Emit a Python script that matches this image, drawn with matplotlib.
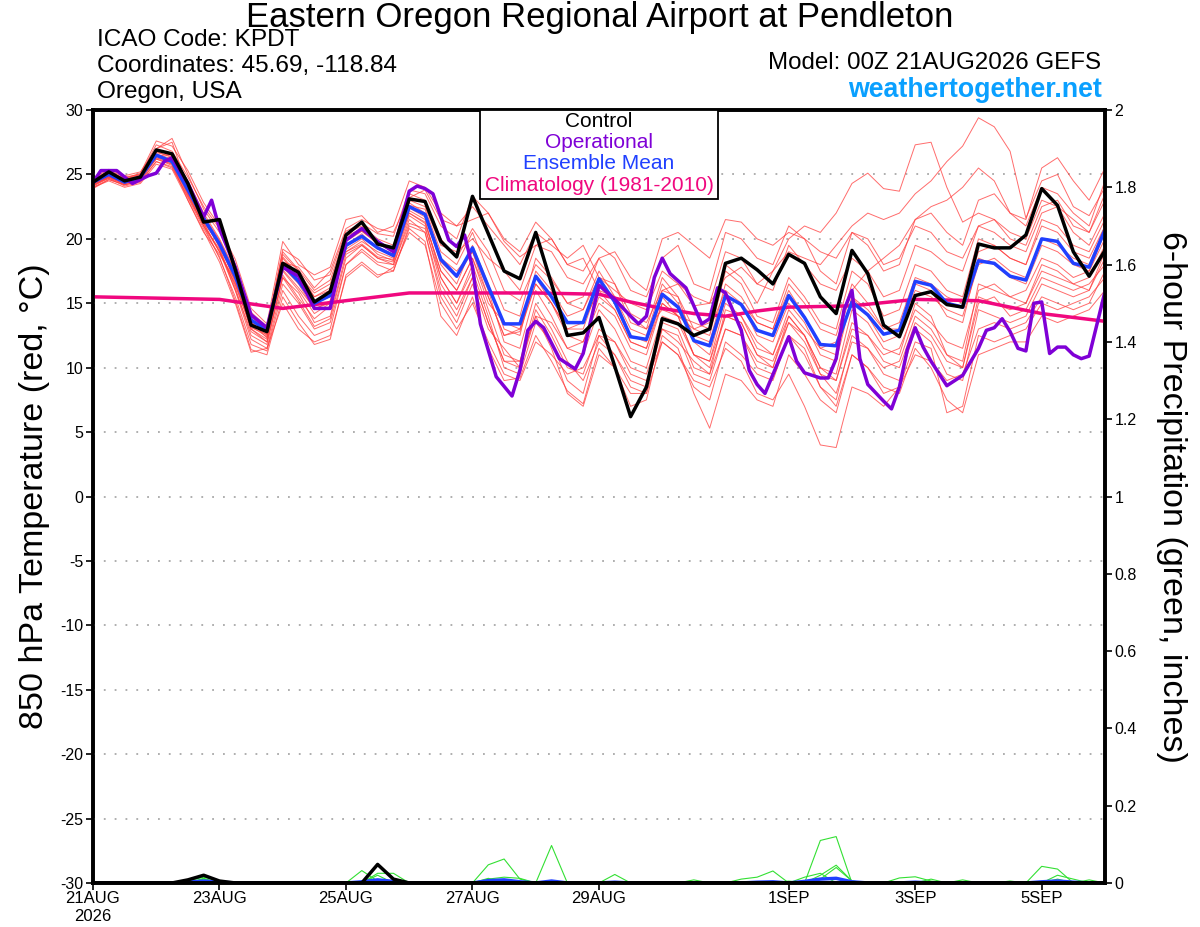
import matplotlib
matplotlib.use("Agg")
import matplotlib.pyplot as plt

plt.rcParams['font.family'] = ['Liberation Sans', 'DejaVu Sans']
plt.rcParams['axes.unicode_minus'] = False

# ------------------------------------------------------------------ dados
# horas de previsão (6-horário), 00Z 21AUG2026 -> 00Z 06SEP2026
hours = list(range(0, 385, 6))

control = [24.4, 25.2, 24.5, 24.8, 26.9, 26.6, 24.3, 21.3, 21.5, 17.6,
           13.3, 12.8, 18.1, 17.4, 15.1, 15.9, 20.3, 21.3, 19.6, 19.3,
           23.1, 22.9, 19.8, 18.6, 23.3, 20.4, 17.5, 16.9, 20.5, 16.5,
           12.5, 12.7, 13.9, 10.1, 6.2, 8.5, 13.8, 13.4, 12.5, 13.0,
           18.1, 18.5, 17.6, 16.5, 18.8, 18.1, 15.5, 14.2, 19.1, 17.3,
           13.3, 12.4, 15.6, 15.9, 14.9, 14.7, 19.6, 19.3, 19.3, 20.3,
           23.9, 22.6, 19.0, 17.1, 19.1]

ens_mean = [24.4, 25.0, 24.4, 24.8, 26.5, 26.0, 23.8, 21.6, 19.6, 17.1,
            13.7, 12.9, 18.0, 16.7, 15.0, 15.6, 19.5, 20.2, 19.3, 18.7,
            22.5, 21.9, 18.4, 17.1, 19.3, 16.3, 13.4, 13.4, 17.1, 15.5,
            13.5, 13.5, 16.9, 15.1, 12.4, 12.2, 15.7, 14.7, 12.1, 11.7,
            15.6, 14.9, 12.9, 12.5, 15.6, 13.9, 11.8, 11.7, 15.1, 14.1,
            12.6, 12.9, 16.7, 16.4, 15.0, 14.7, 18.3, 18.1, 17.1, 16.8,
            20.0, 19.8, 18.1, 17.8, 20.7]

# operacional (GFS) em passos de 3 h onde se vêem os vértices
oper_hours = [0, 3, 9, 15, 21, 24, 27, 30, 36, 42, 45, 48, 54, 60, 66, 72, 78,
              84, 90, 96, 102, 108, 114, 120, 123, 126, 129, 135, 138, 141,
              144, 147, 153, 159, 162, 165, 168, 171, 177, 183, 186, 192, 198,
              204, 207, 210, 213, 216, 219, 225, 231, 234, 237, 240, 246, 249,
              252, 255, 264, 267, 270, 276, 279, 282, 285, 288, 291, 294, 300,
              303, 306, 309, 312, 315, 318, 324, 330, 336, 339, 342, 345, 348,
              351, 354, 357, 360, 363, 366, 369, 372, 375, 378, 384]
operational = [24.4, 25.3, 25.3, 24.3, 24.9, 25.1, 26.0, 26.3, 24.3, 21.7,
               23.0, 20.8, 17.8, 14.1, 13.1, 17.8, 17.1, 14.6, 14.6, 19.9,
               20.8, 19.8, 19.0, 23.7, 24.1, 23.9, 23.5, 19.9, 19.4, 20.3,
               17.8, 13.4, 9.3, 7.8, 9.8, 12.9, 13.6, 13.1, 10.7, 9.9,
               11.1, 16.4, 15.3, 14.0, 13.4, 14.0, 17.0, 18.5, 17.3, 16.2,
               13.4, 13.8, 16.2, 15.8, 12.9, 9.8, 8.7, 8.0, 12.4, 10.5,
               9.6, 9.2, 9.2, 10.7, 14.5, 16.0, 10.7, 8.7, 7.4, 6.8,
               8.5, 11.4, 13.1, 11.6, 10.5, 8.6, 9.4, 11.5, 12.9, 13.1,
               13.8, 12.8, 11.5, 11.3, 15.0, 15.1, 11.1, 11.6, 11.6, 11.0,
               10.7, 10.9, 15.9]

clim_hours = [0, 48, 72, 96, 120, 144, 168, 192, 204, 216, 228, 240, 252,
              264, 288, 312, 336, 360, 384]
climatology = [15.5, 15.3, 14.6, 15.2, 15.8, 15.8, 15.8, 15.7, 15.1, 14.6,
               14.2, 14.0, 14.4, 14.7, 14.8, 15.3, 15.2, 14.2, 13.6]

# membros do ensemble (temperatura 850 hPa), lidos a olho
mem_a = [24.2, 24.8, 24.3, 24.6, 27.0, 27.8, 25.0, 22.3, 20.5, 17.8, 14.3, 13.2, 19.0, 17.6, 16.0, 16.8,
         20.4, 21.0, 20.0, 19.5, 23.5, 23.0, 20.0, 18.5, 20.8, 19.0, 16.0, 15.2, 18.0, 16.8, 15.0, 14.5,
         17.0, 16.5, 14.2, 13.5, 16.0, 16.5, 14.8, 15.0, 17.0, 17.8, 16.5, 17.5, 19.0, 18.5, 18.0, 19.5,
         21.0, 22.0, 21.5, 22.0, 23.5, 24.5, 26.0, 27.2, 29.4, 28.7, 26.8, 21.6, 24.5, 25.0, 22.5, 21.8, 24.0]
mem_b = [24.5, 25.1, 24.6, 24.9, 26.3, 26.0, 23.5, 21.0, 19.0, 16.5, 13.0, 12.2, 17.5, 16.0, 14.2, 15.0,
         19.8, 20.6, 19.7, 19.0, 22.0, 21.3, 17.5, 16.0, 18.5, 15.5, 12.5, 12.8, 16.5, 15.0, 13.0, 13.5,
         16.0, 14.5, 12.0, 11.5, 15.0, 14.0, 13.0, 13.5, 18.0, 17.0, 15.0, 17.5, 20.0, 21.0, 20.5, 22.0,
         24.3, 25.1, 23.9, 23.7, 27.3, 27.5, 24.0, 21.3, 22.0, 21.5, 20.0, 19.5, 22.5, 23.0, 21.0, 20.5, 23.5]
mem_c = [24.0, 24.6, 24.2, 24.5, 26.8, 26.3, 24.3, 21.8, 19.3, 16.2, 12.5, 11.8, 17.0, 15.8, 13.5, 14.0,
         18.8, 19.5, 18.5, 18.0, 21.5, 20.5, 16.0, 14.0, 17.0, 13.5, 10.5, 10.0, 14.5, 12.5, 10.0, 9.5,
         13.0, 12.0, 9.5, 9.0, 12.0, 11.0, 9.0, 8.5, 11.5, 10.5, 8.0, 7.5, 9.5, 7.0, 4.0, 3.8,
         8.5, 8.0, 7.0, 8.5, 11.0, 10.5, 9.0, 9.5, 13.0, 13.5, 13.0, 13.5, 15.5, 15.0, 14.5, 15.0, 17.5]
mem_d = [24.6, 25.3, 24.8, 25.0, 27.3, 26.8, 24.8, 22.5, 20.8, 18.4, 14.6, 13.4, 19.8, 18.0, 17.2, 17.8,
         21.5, 21.8, 20.5, 21.0, 24.5, 24.0, 22.0, 21.0, 22.5, 21.0, 19.5, 18.0, 20.5, 19.5, 18.5, 19.5,
         17.0, 16.0, 15.0, 14.5, 17.5, 16.5, 15.5, 15.0, 19.0, 18.5, 16.5, 16.0, 19.5, 18.0, 16.5, 16.0,
         18.5, 17.5, 15.5, 16.0, 19.5, 19.0, 18.0, 17.5, 21.0, 21.5, 20.5, 20.0, 23.0, 22.5, 20.5, 19.5, 22.0]
mem_e = [24.1, 24.7, 24.1, 24.4, 26.0, 25.6, 23.2, 20.8, 18.6, 15.2, 11.4, 11.0, 15.5, 13.5, 11.8, 12.2,
         17.2, 18.2, 17.2, 17.5, 20.8, 19.8, 14.0, 12.5, 15.5, 11.5, 9.0, 9.2, 12.5, 10.5, 8.2, 7.2,
         11.5, 10.0, 7.0, 7.5, 12.5, 11.5, 8.0, 5.3, 9.5, 9.0, 7.5, 7.0, 11.0, 9.5, 7.5, 6.5,
         11.0, 10.0, 8.5, 8.0, 11.5, 10.0, 7.5, 6.5, 11.0, 11.5, 12.0, 12.0, 14.0, 13.5, 14.0, 14.5, 16.0]
mem_f = [24.3, 24.9, 24.5, 24.7, 26.2, 25.8, 23.0, 20.5, 18.8, 16.8, 13.8, 12.6, 18.5, 17.0, 15.5, 16.0,
         19.0, 19.8, 19.0, 18.5, 22.5, 22.0, 18.5, 17.5, 19.0, 16.0, 12.0, 11.5, 16.0, 14.0, 11.5, 11.0,
         14.5, 13.0, 10.5, 10.0, 14.0, 13.5, 11.0, 10.5, 14.0, 13.5, 11.0, 10.5, 13.5, 12.0, 9.5, 9.0,
         13.0, 12.5, 11.0, 11.5, 14.5, 13.5, 12.0, 11.5, 16.0, 16.5, 15.5, 16.0, 18.5, 18.0, 17.0, 17.5, 20.0]
mem_g = [24.5, 25.2, 24.7, 25.1, 27.6, 27.2, 25.3, 22.8, 21.0, 18.0, 14.0, 12.9, 19.2, 18.4, 16.8, 17.2,
         20.6, 21.2, 20.4, 20.2, 23.8, 23.5, 21.0, 20.0, 23.3, 22.0, 20.0, 19.0, 21.3, 20.0, 18.0, 17.5,
         19.5, 18.5, 16.0, 15.5, 18.5, 19.5, 16.5, 16.0, 20.5, 20.0, 18.5, 18.0, 21.0, 20.0, 17.5, 16.5,
         20.5, 19.5, 17.5, 18.0, 21.5, 22.0, 20.5, 19.5, 23.0, 23.5, 22.0, 21.5, 25.5, 26.3, 24.5, 23.0, 25.5]
mem_h = [24.2, 24.8, 24.4, 24.9, 26.6, 26.2, 23.9, 21.4, 19.5, 17.2, 13.5, 12.5, 17.8, 16.5, 14.5, 15.2,
         19.2, 20.0, 18.8, 18.3, 22.2, 21.5, 17.0, 15.0, 18.0, 14.5, 11.0, 10.5, 15.0, 13.0, 10.5, 9.0,
         12.0, 11.0, 9.0, 8.5, 13.0, 12.5, 9.5, 9.0, 13.0, 12.5, 10.0, 9.5, 12.5, 11.5, 8.5, 7.5,
         12.5, 11.5, 9.5, 9.0, 13.0, 12.0, 9.5, 9.0, 14.5, 14.0, 13.5, 14.0, 16.5, 16.0, 15.5, 16.0, 18.5]
mem_i = [24.4, 25.0, 24.5, 24.7, 26.4, 26.6, 24.5, 22.0, 20.0, 17.5, 13.6, 12.3, 18.2, 17.8, 16.2, 17.5,
         20.8, 21.5, 20.8, 20.5, 23.2, 23.8, 21.5, 21.0, 21.5, 22.0, 19.8, 18.6, 19.5, 20.0, 18.0, 18.5,
         16.0, 15.5, 14.0, 13.0, 14.5, 14.0, 13.5, 13.0, 16.0, 15.0, 13.5, 13.0, 16.5, 15.0, 13.0, 12.5,
         16.5, 15.0, 13.0, 13.5, 17.0, 16.5, 15.5, 15.0, 19.0, 19.5, 18.5, 18.0, 21.5, 21.0, 19.5, 19.0, 21.5]
mem_j = [23.9, 24.6, 24.2, 24.5, 26.0, 25.5, 23.3, 21.0, 19.2, 16.0, 12.2, 11.5, 16.5, 15.0, 13.0, 13.5,
         18.0, 19.0, 18.0, 17.5, 21.0, 20.5, 15.5, 13.5, 16.5, 13.0, 11.5, 10.0, 14.0, 13.5, 11.5, 12.0,
         15.0, 14.0, 11.5, 11.0, 15.0, 14.0, 11.0, 10.0, 14.0, 13.5, 11.0, 10.0, 14.0, 12.5, 10.0, 9.5,
         14.5, 13.5, 11.5, 11.0, 15.0, 14.0, 11.0, 10.5, 16.5, 16.0, 15.5, 15.0, 18.0, 17.5, 16.5, 17.0, 19.5]
mem_k = [24.7, 25.4, 24.9, 25.2, 27.0, 27.5, 24.0, 21.2, 19.8, 17.0, 13.2, 12.4, 18.6, 17.2, 15.8, 16.5,
         20.2, 20.8, 19.6, 19.0, 23.0, 22.5, 19.5, 19.0, 20.0, 18.5, 17.5, 16.0, 19.5, 19.0, 17.0, 16.5,
         18.5, 19.0, 17.0, 16.0, 20.0, 20.5, 19.5, 18.5, 21.5, 21.3, 20.0, 19.5, 20.5, 20.0, 19.0, 18.5,
         20.5, 20.0, 18.0, 18.5, 21.0, 20.5, 19.0, 18.5, 21.0, 20.5, 19.5, 19.0, 22.0, 22.5, 21.5, 20.5, 23.0]
mem_l = [24.3, 24.9, 24.3, 24.6, 26.5, 26.0, 23.6, 21.4, 19.4, 16.8, 13.0, 12.0, 17.2, 15.4, 13.8, 14.8,
         19.5, 20.4, 19.2, 18.8, 22.8, 22.0, 18.0, 16.5, 19.5, 16.5, 13.0, 12.5, 17.5, 16.0, 14.0, 14.5,
         17.5, 15.5, 12.5, 12.0, 16.0, 15.5, 12.0, 11.0, 15.5, 15.0, 12.5, 12.0, 15.0, 13.5, 11.0, 10.5,
         15.5, 14.0, 12.0, 12.5, 16.5, 16.0, 14.0, 13.5, 18.5, 18.0, 17.0, 16.5, 19.5, 19.0, 18.0, 17.5, 20.5]
mem_m = [24.2, 24.7, 24.3, 24.6, 26.2, 25.7, 23.4, 21.0, 18.5, 15.5, 11.8, 11.3, 16.0, 14.0, 12.5, 13.0,
         18.0, 19.2, 18.2, 18.0, 21.2, 20.8, 17.0, 15.0, 17.5, 14.0, 10.0, 9.5, 13.5, 12.0, 9.0, 8.0,
         12.5, 11.0, 8.5, 8.0, 12.0, 11.0, 8.5, 7.5, 12.0, 11.0, 9.5, 9.0, 12.5, 11.0, 8.5, 7.0,
         11.0, 10.0, 8.0, 8.5, 12.0, 11.5, 6.5, 7.0, 12.5, 12.0, 12.5, 13.0, 15.0, 14.5, 15.0, 15.5, 17.0]
mem_n = [24.5, 25.1, 24.6, 25.0, 26.7, 26.4, 24.0, 21.8, 19.9, 17.4, 13.9, 13.1, 18.8, 17.5, 15.5, 16.2,
         20.0, 20.6, 19.6, 19.2, 22.6, 22.3, 19.0, 18.0, 20.5, 17.5, 14.5, 14.0, 18.5, 17.0, 15.0, 15.5,
         18.5, 16.5, 13.5, 13.0, 17.0, 15.5, 13.0, 12.5, 17.5, 16.5, 14.0, 13.5, 17.0, 15.5, 13.5, 13.0,
         17.5, 16.5, 14.0, 14.5, 18.0, 17.5, 16.0, 15.5, 20.0, 19.5, 18.5, 18.0, 21.0, 20.5, 19.0, 18.5, 21.0]
mem_o = [24.0, 24.5, 24.0, 24.3, 25.8, 25.4, 23.0, 20.6, 18.2, 15.0, 11.2, 11.5, 15.0, 13.0, 12.0, 12.5,
         17.0, 18.0, 17.0, 17.8, 20.5, 19.5, 15.0, 13.0, 15.0, 12.0, 9.5, 9.0, 12.0, 11.0, 9.5, 10.0,
         12.5, 12.0, 10.0, 9.5, 13.0, 12.0, 10.5, 9.5, 13.0, 12.5, 10.5, 10.0, 13.5, 12.5, 9.5, 8.0,
         12.0, 11.5, 10.0, 10.5, 14.0, 13.0, 11.0, 10.0, 15.0, 15.5, 14.0, 14.5, 17.0, 16.5, 16.0, 16.5, 18.0]
mem_p = [24.6, 25.2, 24.7, 25.0, 26.9, 26.5, 24.2, 21.6, 19.6, 16.6, 13.3, 12.8, 18.0, 16.8, 15.0, 15.5,
         19.4, 20.2, 19.4, 18.8, 22.4, 21.7, 18.2, 17.0, 19.0, 15.5, 12.5, 13.0, 17.0, 15.0, 12.5, 12.0,
         15.5, 14.5, 12.0, 11.5, 15.5, 14.0, 11.0, 10.5, 15.0, 14.0, 12.0, 11.0, 14.5, 13.0, 11.5, 12.0,
         16.0, 17.5, 18.5, 19.5, 21.5, 22.5, 23.0, 24.0, 25.5, 24.5, 22.0, 21.0, 24.0, 23.5, 22.0, 21.0, 24.5]
mem_q = [24.3, 24.8, 24.4, 24.8, 26.4, 25.9, 23.7, 21.2, 19.0, 16.4, 13.1, 12.6, 17.6, 16.2, 14.6, 15.0,
         19.0, 19.6, 18.6, 18.4, 22.0, 21.2, 17.5, 16.0, 18.5, 15.0, 13.5, 13.0, 16.5, 15.0, 13.0, 13.0,
         16.5, 15.5, 13.0, 12.5, 16.5, 15.0, 12.5, 12.0, 16.5, 15.5, 13.5, 13.0, 16.0, 14.0, 11.5, 11.0,
         15.5, 14.5, 13.0, 13.0, 16.0, 15.5, 14.5, 14.0, 18.0, 18.5, 17.5, 17.0, 20.0, 19.5, 18.5, 18.0, 21.0]
mem_r = [24.1, 24.8, 24.2, 24.5, 26.3, 25.8, 23.5, 21.2, 19.0, 16.0, 12.8, 12.0, 17.0, 15.2, 13.2, 13.8,
         18.5, 19.5, 18.5, 18.2, 21.8, 21.0, 16.5, 14.5, 17.0, 13.5, 10.5, 10.5, 14.0, 11.5, 8.0, 7.0,
         11.0, 10.0, 8.0, 8.0, 13.5, 13.0, 10.0, 9.5, 14.5, 14.0, 11.5, 11.0, 14.0, 12.5, 10.0, 9.0,
         13.5, 12.5, 10.5, 10.0, 13.5, 12.5, 10.5, 10.0, 15.5, 15.0, 14.5, 15.0, 17.5, 17.0, 16.5, 16.0, 19.0]
members = [mem_a, mem_b, mem_c, mem_d, mem_e, mem_f, mem_g, mem_h, mem_i,
           mem_j, mem_k, mem_l, mem_m, mem_n, mem_o, mem_p, mem_q, mem_r]

# precipitação 6 h (polegadas)
pcp_control = [0, 0, 0, 0, 0, 0, 0.008, 0.02, 0.005, 0, 0, 0, 0, 0, 0, 0,
               0, 0, 0.048, 0.01, 0, 0, 0, 0, 0, 0, 0, 0, 0, 0, 0, 0,
               0, 0, 0, 0, 0, 0, 0, 0, 0, 0, 0, 0, 0, 0, 0, 0,
               0, 0, 0, 0, 0, 0, 0, 0, 0, 0, 0, 0, 0, 0, 0, 0, 0]
pcp_mean = [0, 0, 0, 0, 0, 0, 0.002, 0.005, 0.002, 0, 0, 0, 0, 0, 0, 0,
            0, 0.003, 0.008, 0.004, 0, 0, 0, 0, 0, 0.006, 0.008, 0.003, 0, 0.005, 0, 0,
            0, 0.002, 0, 0, 0, 0, 0, 0, 0, 0, 0.002, 0.003, 0, 0.004, 0.01, 0.012,
            0.003, 0, 0, 0, 0.002, 0, 0, 0, 0, 0, 0, 0, 0.003, 0.005, 0.002, 0, 0]
pcp_m1 = [0, 0, 0, 0, 0, 0, 0.005, 0.015, 0.005, 0, 0, 0, 0, 0, 0, 0,
          0, 0.032, 0.005, 0, 0, 0, 0, 0, 0, 0.047, 0.062, 0.01, 0, 0, 0, 0,
          0, 0, 0, 0, 0, 0, 0, 0, 0, 0, 0, 0, 0.005, 0, 0.11, 0.12,
          0, 0, 0, 0, 0, 0, 0, 0, 0, 0, 0, 0, 0.043, 0.036, 0, 0, 0]
pcp_m2 = [0, 0, 0, 0, 0, 0, 0, 0.01, 0, 0, 0, 0, 0, 0, 0, 0,
          0, 0, 0.025, 0.025, 0, 0, 0, 0, 0, 0.01, 0.015, 0.012, 0, 0.097, 0, 0,
          0, 0.022, 0, 0, 0, 0, 0, 0, 0, 0, 0, 0, 0, 0, 0.02, 0.046,
          0.005, 0, 0, 0, 0, 0, 0, 0, 0, 0, 0, 0, 0, 0.02, 0.01, 0, 0]
pcp_m3 = [0, 0, 0, 0, 0, 0, 0, 0.012, 0, 0, 0, 0, 0, 0, 0, 0,
          0, 0, 0, 0, 0, 0, 0, 0, 0, 0, 0, 0, 0, 0, 0, 0,
          0, 0, 0, 0, 0, 0, 0, 0, 0, 0.01, 0.015, 0.031, 0, 0, 0, 0,
          0, 0, 0, 0.013, 0.016, 0.005, 0, 0.008, 0, 0, 0, 0, 0, 0, 0, 0, 0]
pcp_m4 = [0, 0, 0, 0, 0, 0, 0, 0, 0, 0, 0, 0, 0, 0, 0, 0,
          0, 0, 0, 0, 0, 0, 0, 0, 0, 0, 0, 0, 0, 0, 0, 0,
          0, 0, 0, 0, 0, 0, 0, 0, 0, 0, 0, 0, 0, 0, 0.01, 0.04,
          0.005, 0, 0, 0, 0, 0.01, 0, 0, 0, 0, 0.005, 0, 0, 0, 0, 0.008, 0]
pcp_m5 = [0, 0, 0, 0, 0, 0, 0, 0, 0, 0, 0, 0, 0, 0, 0, 0,
          0, 0, 0.02, 0, 0, 0, 0, 0, 0, 0.012, 0, 0, 0, 0, 0, 0,
          0, 0, 0, 0, 0, 0, 0.008, 0, 0, 0, 0, 0, 0, 0.015, 0.025, 0,
          0, 0, 0, 0, 0, 0, 0, 0, 0, 0, 0, 0, 0, 0.01, 0, 0, 0]
pcp_members = [pcp_m1, pcp_m2, pcp_m3, pcp_m4, pcp_m5]

tick_hours = [0, 48, 96, 144, 192, 264, 312, 360]
tick_labels = ['21AUG\n2026', '23AUG', '25AUG', '27AUG', '29AUG', '1SEP', '3SEP', '5SEP']

legend_items = ['Control', 'Operational', 'Ensemble Mean', 'Climatology (1981-2010)']

# ------------------------------------------------------------------ gráfico
RED = '#ff3b3b'
GREEN = '#33e033'
PURPLE = '#7f00d6'
BLUE = '#2040ff'
MAGENTA = '#f0087f'
legend_colors = ['black', PURPLE, BLUE, MAGENTA]

fig = plt.figure(figsize=(12, 9.27), dpi=100)
ax = fig.add_axes([0.0775, 0.0475, 0.8433, 0.8338])
ax2 = ax.twinx()

# precipitação no eixo direito (por baixo)
ax2.set_zorder(1)
ax.set_zorder(2)
ax.patch.set_visible(False)

for p in pcp_members:
    ax2.plot(hours, p, color=GREEN, lw=0.8)
ax2.plot(hours, pcp_mean, color=BLUE, lw=2.5)
ax2.plot(hours, pcp_control, color='black', lw=2.5)

for m in members:
    ax.plot(hours, m, color=RED, lw=0.7, alpha=0.75)
ax.plot(clim_hours, climatology, color=MAGENTA, lw=2.5)
ax.plot(hours, ens_mean, color=BLUE, lw=2.5)
ax.plot(oper_hours, operational, color=PURPLE, lw=2.5)
ax.plot(hours, control, color='black', lw=2.5)

ax.set_xlim(0, 384)
ax.set_ylim(-30, 30)
ax2.set_ylim(0, 2)
ax.set_yticks(range(-30, 31, 5))
ax2.set_yticks([0, 0.2, 0.4, 0.6, 0.8, 1, 1.2, 1.4, 1.6, 1.8, 2])
ax2.set_yticklabels(['0', '0.2', '0.4', '0.6', '0.8', '1', '1.2', '1.4', '1.6', '1.8', '2'])
ax.set_xticks(tick_hours)
ax.set_xticklabels(tick_labels)

for y in range(-25, 30, 5):
    ax.axhline(y, color='#a8a8a8', lw=1.3, ls=(0, (1, 5)), zorder=0)

ax.tick_params(axis='y', labelsize=11.5, direction='out', length=5, width=1.2, pad=2)
ax.tick_params(axis='x', labelsize=12, direction='out', length=5, width=1.2, pad=1)
ax2.tick_params(axis='y', labelsize=11.5, direction='out', length=5, width=1.2, pad=2)
for a in (ax, ax2):
    for s in a.spines.values():
        s.set_linewidth(2.6)

ax.set_ylabel('850 hPa Temperature (red, °C)', fontsize=24.5, labelpad=7)
ax2.set_ylabel('6-hour Precipitation (green, inches)', fontsize=24.5, rotation=-90, labelpad=36)

# legenda em caixa (centros das linhas em pixels: 121, 142, 163, 185)
for k, (txt, col) in enumerate(zip(legend_items, legend_colors)):
    ax.text(0.5, 0.9858 - k * 0.0278, txt, transform=ax.transAxes, ha='center',
            va='center', fontsize=15, color=col, zorder=10)
box = plt.Rectangle((0.3825, 0.8849), 0.2355, 0.1151, transform=ax.transAxes,
                    facecolor='white', edgecolor='black', lw=1.3, zorder=9)
ax.add_patch(box)

# títulos
fig.text(0.5, 0.9806, 'Eastern Oregon Regional Airport at Pendleton',
         ha='center', va='center', fontsize=25)
fig.text(0.081, 0.9569, 'ICAO Code: KPDT', ha='left', va='center', fontsize=17.6)
fig.text(0.081, 0.9288, 'Coordinates: 45.69, -118.84', ha='left', va='center', fontsize=17.6)
fig.text(0.081, 0.9008, 'Oregon, USA', ha='left', va='center', fontsize=17.6)
fig.text(0.918, 0.932, 'Model: 00Z 21AUG2026 GEFS', ha='right', va='center', fontsize=17.4)
fig.text(0.918, 0.9029, 'weathertogether.net', ha='right', va='center', fontsize=19.3,
         fontweight='bold', color='#0aa0ff')

fig.savefig('out.png', dpi=100)
